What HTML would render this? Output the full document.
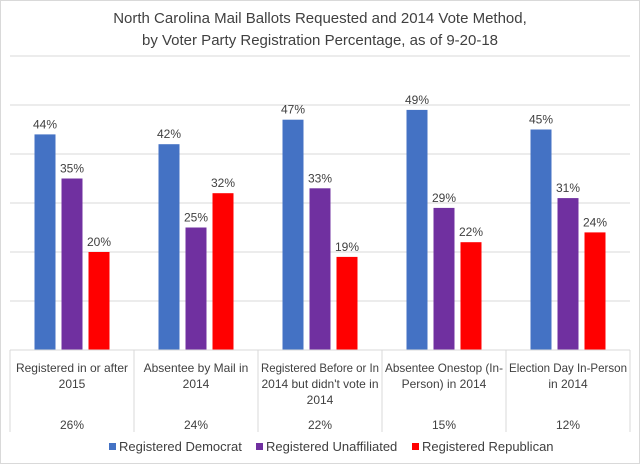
<!DOCTYPE html>
<html><head><meta charset="utf-8"><style>
body{margin:0;background:#fff;}
svg{display:block;font-family:"Liberation Sans",sans-serif;}
</style></head><body>
<svg id="c" width="640" height="464">
<rect x="0.5" y="0.5" width="639" height="463" fill="#fff" stroke="#d9d9d9"/>
<text x="320" y="23" text-anchor="middle" font-size="15" fill="#404040">North Carolina Mail Ballots Requested and 2014 Vote Method,</text>
<text x="320" y="45" text-anchor="middle" font-size="15" fill="#404040">by Voter Party Registration Percentage, as of 9-20-18</text>
<g id="grid"></g><g id="bars"></g><g id="cats"></g><g id="legend"></g>
</svg>
<script>
const categories=[["Registered in or after","2015"],["Absentee by Mail in","2014"],["Registered Before or In","2014 but didn't vote in","2014"],["Absentee Onestop (In-","Person) in 2014"],["Election Day In-Person","in 2014"]];
const shares=["26%","24%","22%","15%","12%"];
const dem=[44,42,47,49,45];
const unaff=[35,25,33,29,31];
const rep=[20,32,19,22,24];
const seriesNames=["Registered Democrat","Registered Unaffiliated","Registered Republican"];
const colors=["#4472c4","#7030a0","#ff0000"];
const gridVals=[10,20,30,40,50,60];
const NS="http://www.w3.org/2000/svg";
const x0=10,x1=630,base=350,yMax=60,yTop=56;
const y=v=>base-(base-yTop)*v/yMax;
const cw=(x1-x0)/categories.length;
function mk(t,a,p){const e=document.createElementNS(NS,t);for(const k in a)e.setAttribute(k,a[k]);p.appendChild(e);return e;}
function narrow(t,max){const w=t.getComputedTextLength();if(w>max){t.setAttribute('textLength',max);t.setAttribute('lengthAdjust','spacingAndGlyphs');}}
const grid=document.getElementById('grid');
gridVals.forEach(v=>{const l=mk('line',{x1:x0,x2:x1,y1:y(v),y2:y(v),stroke:'#d9d9d9'},grid);

});
const bars=document.getElementById('bars');
const series=[dem,unaff,rep];
const bw=21,gap=6;
categories.forEach((c,i)=>{const cx=x0+cw*(i+0.5);
series.forEach((s,j)=>{const bx=cx+(j-1)*(bw+gap)-bw/2;
const r=mk('rect',{x:bx,y:y(s[i]),width:bw,height:base-y(s[i]),fill:colors[j]},bars);


const t=mk('text',{x:bx+bw/2,y:y(s[i])-6,'text-anchor':'middle','font-size':12,fill:'#404040'},bars);t.textContent=s[i]+'%';

});});
const cats=document.getElementById('cats');
mk('line',{x1:x0,x2:x1,y1:base,y2:base,stroke:'#d9d9d9'},cats);
for(let i=0;i<=categories.length;i++){const l=mk('line',{x1:x0+cw*i,x2:x0+cw*i,y1:base,y2:432,stroke:'#d9d9d9'},cats);

}
categories.forEach((c,i)=>{const cx=x0+cw*(i+0.5);
c.forEach((ln,k)=>{const t=mk('text',{x:cx,y:372+16*k,'text-anchor':'middle','font-size':12,fill:'#404040'},cats);t.textContent=ln;
narrow(t,118);

});
const p=mk('text',{x:cx,y:429,'text-anchor':'middle','font-size':12,fill:'#404040'},cats);p.textContent=shares[i];

});
const lg=document.getElementById('legend');
const lx=[109,256,412];
seriesNames.forEach((n,j)=>{const g=mk('g',{},lg);


mk('rect',{x:lx[j],y:443,width:7,height:7,fill:colors[j]},g);
const t=mk('text',{x:lx[j]+10,y:451,'font-size':13,fill:'#404040'},g);t.textContent=n;});
</script>
</body></html>
